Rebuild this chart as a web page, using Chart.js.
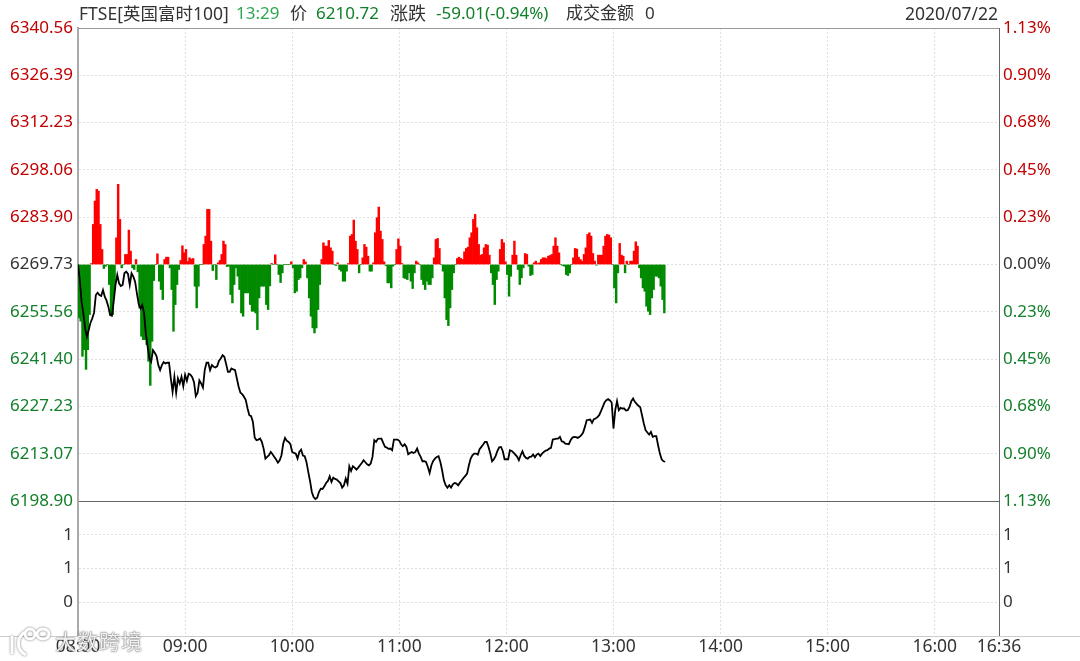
<!DOCTYPE html>
<html>
<head>
<meta charset="utf-8">
<script src="https://cdn.jsdelivr.net/npm/chart.js@4"></script>
<style>
    html, body { margin: 0; padding: 0; background: #fff; }
    #wrap { position: relative; width: 1080px; height: 661px; overflow: hidden; font-family: "Noto Sans", "Noto Sans CJK SC", sans-serif; }
    canvas { position: absolute; left: 0; top: 0; }
    .head { position: absolute; top: 1px; font-size: 17px; line-height: 24px; color: #333; white-space: nowrap; }
    .down { color: #12802a; }
    .time { color: #2fa651; }
    #mark { position: absolute; left: 55px; top: 627px; font-size: 21px; line-height: 28px; letter-spacing: 1px; color: rgba(255,255,255,.9); text-shadow: 0 0 2px #666, 0 0 1px #666; }
    #logo { position: absolute; left: 8px; top: 626px; }
</style>
</head>
<body>
<div id="wrap">
    <canvas id="chart" width="1080" height="661"></canvas>
    <span class="head" style="left:79px;font-size:17.5px">FTSE[英国富时100]</span>
    <span class="head time" style="left:236px">13:29</span>
    <span class="head" style="left:290px">价</span>
    <span class="head down" style="left:316px">6210.72</span>
    <span class="head" style="left:390px;font-size:18px">涨跌</span>
    <span class="head down" style="left:436px">-59.01(-0.94%)</span>
    <span class="head" style="left:566px">成交金额</span>
    <span class="head" style="left:645px">0</span>
    <span class="head" style="right:82px;font-size:17.5px">2020/07/22</span>
    <svg id="logo" width="44" height="32" fill="none" stroke="#fff" stroke-width="3" style="filter:drop-shadow(0 0 1px #777)">
        <path d="M4 10 L4 28 M17 6 C8 12 8 24 18 29"/>
        <ellipse cx="22" cy="8" rx="5" ry="5"/>
        <ellipse cx="35" cy="8" rx="6" ry="5"/>
    </svg>
    <span id="mark">大数跨境</span>
</div>
<script>
    const startPrice = 6269.73;
    const priceTicks = [6198.90, 6213.07, 6227.23, 6241.40, 6255.56, 6269.73, 6283.90, 6298.06, 6312.23, 6326.39, 6340.56];
    const pctLabels = ["1.13%", "0.90%", "0.68%", "0.45%", "0.23%", "0.00%", "0.23%", "0.45%", "0.68%", "0.90%", "1.13%"];
    const volTicks = [0.5, 1, 1.5];
    const volLabels = ["0", "1", "1"];
    const timeTicks = [0, 60, 120, 180, 240, 300, 360, 420, 480, 516];
    const timeLabels = ["08:00", "09:00", "10:00", "11:00", "12:00", "13:00", "14:00", "15:00", "16:00", "16:36"];

    // цена по минутам с 08:00
    const prices = [
        6269.7, 6265.1, 6258.6, 6255.1, 6250.6, 6248.1, 6250.1, 6252.3, 6253.6, 6255.3,
        6260.6, 6261.3, 6260.6, 6260.3, 6262.1, 6260.1, 6258.9, 6257.1, 6254.6, 6254.4,
        6258.6, 6263.6, 6266.6, 6264.1, 6263.3, 6263.6, 6267.1, 6267.6, 6266.9, 6263.6,
        6267.1, 6266.1, 6264.6, 6261.1, 6257.9, 6256.6, 6257.6, 6255.3, 6249.1, 6245.1,
        6241.6, 6240.6, 6244.1, 6243.3, 6242.3, 6239.6, 6238.1, 6239.6, 6240.5, 6240.1,
        6240.3, 6240.3, 6235.6, 6231.6, 6236.1, 6231.3, 6235.6, 6234.1, 6236.1, 6233.3,
        6236.7, 6234.9, 6237.0, 6236.7, 6236.0, 6234.5, 6230.3, 6231.3, 6235.0, 6234.1,
        6232.9, 6238.1, 6240.3, 6240.3, 6238.1, 6239.6, 6239.1, 6238.9, 6239.3, 6240.9,
        6241.6, 6242.6, 6242.1, 6239.9, 6237.6, 6237.6, 6238.6, 6238.3, 6238.1, 6235.6,
        6233.1, 6231.3, 6230.9, 6230.1, 6229.1, 6226.6, 6224.6, 6224.3, 6222.6, 6217.9,
        6217.1, 6217.3, 6217.6, 6216.6, 6214.6, 6211.6, 6212.1, 6212.6, 6213.6, 6212.9,
        6212.1, 6211.3, 6210.4, 6211.1, 6212.6, 6216.1, 6217.8, 6216.9, 6216.6, 6215.9,
        6213.6, 6213.3, 6213.1, 6211.6, 6213.6, 6214.3, 6212.5, 6212.3, 6210.6, 6207.6,
        6204.9, 6201.6, 6200.1, 6199.5, 6199.9, 6201.6, 6202.6, 6202.5, 6203.3, 6204.3,
        6204.9, 6206.3, 6204.6, 6205.9, 6205.5, 6205.3, 6204.8, 6204.3, 6202.9, 6203.6,
        6205.6, 6204.1, 6209.3, 6207.9, 6209.3, 6208.9, 6208.3, 6208.9, 6209.6, 6210.3,
        6211.1, 6210.5, 6209.9, 6209.6, 6210.1, 6212.1, 6217.1, 6216.6, 6217.5, 6217.6,
        6217.6, 6216.3, 6215.1, 6214.9, 6214.5, 6214.6, 6214.1, 6217.3, 6217.3, 6217.3,
        6216.9, 6215.9, 6215.3, 6215.9, 6215.1, 6212.9, 6213.3, 6213.6, 6213.3, 6213.6,
        6214.6, 6213.1, 6212.1, 6210.8, 6210.8, 6210.6, 6209.1, 6207.3, 6209.6, 6210.9,
        6211.6, 6212.1, 6212.3, 6210.6, 6208.1, 6205.1, 6203.6, 6202.9, 6203.6, 6202.9,
        6203.9, 6204.3, 6204.1, 6203.6, 6204.4, 6205.1, 6205.8, 6206.4, 6207.1, 6209.6,
        6211.6, 6212.6, 6213.1, 6213.1, 6212.8, 6214.4, 6215.1, 6215.8, 6216.6, 6216.6,
        6215.1, 6213.1, 6210.8, 6211.4, 6212.4, 6213.9, 6215.0, 6215.1, 6213.8, 6211.4,
        6211.4, 6211.4, 6214.1, 6213.9, 6213.4, 6212.8, 6212.2, 6211.1, 6212.6, 6213.8,
        6212.4, 6211.8, 6211.6, 6212.1, 6212.2, 6212.8, 6212.0, 6212.8, 6213.1, 6212.4,
        6213.1, 6213.6, 6214.0, 6214.1, 6214.6, 6214.8, 6217.3, 6217.4, 6217.6, 6217.6,
        6218.1, 6216.8, 6216.6, 6216.1, 6216.0, 6215.9, 6217.1, 6217.9, 6218.1, 6218.0,
        6217.8, 6218.1, 6218.6, 6219.4, 6221.1, 6223.1, 6223.2, 6223.3, 6222.3, 6223.4,
        6223.6, 6224.0, 6224.6, 6225.8, 6227.1, 6228.4, 6229.1, 6229.4, 6229.0, 6228.4,
        6220.6, 6226.1, 6228.8, 6226.1, 6226.8, 6226.6, 6226.6, 6226.0, 6226.1, 6227.1,
        6228.8, 6229.6, 6228.6, 6228.0, 6227.4, 6227.0, 6224.6, 6222.1, 6220.1, 6219.4,
        6218.8, 6219.6, 6218.1, 6218.3, 6218.3, 6215.6, 6213.1, 6211.4, 6210.8, 6210.72
    ];

    // красные/зелёные столбики, отклонение от нулевой линии
    const bars = [
        -16, -17, -27.5, -25.5, -31.4, -25.5, -15, 0.3, 12, 19,
        22.5, 22, 12, 4.5, -1.2, -0.5, 0, -6, -15, -15,
        -7.5, 8, 24, 13.5, -1, 0, 3, 3, 10.3, 4,
        -1, -1.5, 1.5, -2.2, -13, -21.5, -22.5, -22.5, -24, -29,
        -36.2, -23, -4.8, 0, 3.2, -5, -7.5, -10.5, 1.5, 2.2,
        2.2, -1, -7.5, -20, -12, -6, -1.5, 1.2, 5.6, 3.5,
        4.5, 0.9, 2, 1.6, 1.8, -6.5, -13, -6.5, 0, 0,
        6, 8.5, 16.5, 16.5, 7, -1.8, 0, -4.5, 0.5, 1.2,
        3, 7, 6, -0.6, -0.5, -9, -11.5, -6, -1, -3.5,
        -7.5, -14.5, -15.5, -8.5, -8.5, -8.5, -12, -14, -14, -14.5,
        -19.5, -10, -6.5, -6.5, -6.5, -12, -13.5, -6.4, 0.3, 0,
        2.9, 0, -3, -5.4, -2.5, 0, 0, 0, 0, 0.8,
        -1, -8.5, -8, -4.5, -4, -1, 1.5, 0.8, -4, -10,
        -15.5, -19, -20.5, -19, -13.5, -6, 1.5, 6.5, 5.5, 5.5,
        7.2, 5, 4, 0, -0.3, 0.5, -1.5, -2, -5, -5,
        -2, 0.3, 8.5, 9, 13.3, 7, 4.5, -2.5, 0, 2,
        6, 5.2, 2.5, -2, -2, 0.5, 9.5, 14, 17.2, 10,
        7.5, 0.8, -0.3, -5.5, -5.5, -7, -0.5, 0, 4.5, 7.7,
        5.5, 0.3, -4, -4.2, -4.5, -2.5, -5, -7.2, -2.5, 1,
        0.5, 0, -4.5, -6, -7.5, -5, -6, -6, -4, 2,
        7.5, 7.8, 4.8, 0, -2, -10, -16.5, -18.3, -13, -7.5,
        -2.5, 0, 1.8, 2.2, 1.8, 1.5, 3.8, 4.8, 5.2, 8,
        9.5, 13.5, 15, 11, 6, 2.8, 3, 5, 6, 5.8,
        2.8, -2.5, -6, -12, -4.5, -2, 4.5, 7.5, 6.5, 0.8,
        -3, -9.5, -3.5, 2.8, 7, 2.8, -1.5, -6, -4, -1,
        3.3, 3, -0.5, -3.3, -3, 0.5, 1, 0.3, 0.5, 1.5,
        2, 2, 1.8, 2.5, 2.7, 3, 5.5, 8, 5.5, 3.5,
        0, -0.3, -0.5, -3, -3.3, -2.5, 0, 2, 4.8, 4.6,
        2.2, 1.5, 1, 3, 5, 9, 9.5, 8.5, 3.3, 1,
        -0.2, 2.8, 2.8, 2.8, 5.5, 8.5, 9, 8.8, 8, 0,
        -7, -11.5, -2.5, 6.3, 2.8, 2.5, -2.5, 1, 0, 1,
        1, 4, 6.8, 5.5, -1, -4, -7, -8, -12.5, -14,
        -15, -10, -7.5, -3.5, -3.5, -4, -6.5, -10.5, -14.5
    ];

    const fontFamily = '"Noto Sans", "Noto Sans CJK SC", sans-serif';
    const textRed = "#c00000";
    const textGreen = "#12802a";
    const textDark = "#333333";
    const gridColor = "#e0e0e0";

    function priceColor(index) {
        if (index === 5) return textDark;
        return index > 5 ? textRed : textGreen;
    }

    // линия во всю ширину под графиком и рамка сверху
    const framePlugin = {
        id: "frame",
        afterDraw(chart) {
            const ctx = chart.ctx;
            const area = chart.chartArea;
            ctx.save();
            ctx.strokeStyle = "#cccccc";
            ctx.lineWidth = 1;
            ctx.beginPath();
            ctx.moveTo(0, area.bottom + 0.5);
            ctx.lineTo(1080, area.bottom + 0.5);
            ctx.stroke();
            ctx.strokeStyle = "#999999";
            ctx.beginPath();
            ctx.moveTo(area.left, area.top + 0.5);
            ctx.lineTo(area.right, area.top + 0.5);
            ctx.stroke();
            ctx.restore();
        }
    };

    new Chart(document.getElementById("chart"), {
        data: {
            datasets: [
                {
                    type: "line",
                    order: 0,
                    data: prices.map((v, i) => ({ x: i, y: v })),
                    borderColor: "#000000",
                    borderWidth: 1.8,
                    pointRadius: 0,
                    tension: 0,
                    xAxisID: "x",
                    yAxisID: "yPrice"
                },
                {
                    type: "bar",
                    order: 1,
                    data: bars.map((v, i) => ({ x: i + 0.5, y: startPrice + v })),
                    backgroundColor: bars.map(v => v > 0 ? "#ff0000" : "#008a00"),
                    base: startPrice,
                    barPercentage: 1,
                    categoryPercentage: 1,
                    xAxisID: "x",
                    yAxisID: "yPrice"
                }
            ]
        },
        options: {
            responsive: false,
            animation: false,
            layout: { padding: { top: 28, left: 0, right: 0, bottom: 0 } },
            plugins: { legend: { display: false }, tooltip: { enabled: false } },
            scales: {
                x: {
                    type: "linear",
                    offset: false,
                    min: 0,
                    max: 516,
                    afterBuildTicks: axis => { axis.ticks = timeTicks.map(v => ({ value: v })); },
                    afterFit: axis => { axis.height = 25; },
                    grid: { color: gridColor, drawTicks: false, offset: false },
                    border: { display: false, dash: [2, 2] },
                    ticks: {
                        autoSkip: false,
                        maxRotation: 0,
                        padding: 1,
                        color: textDark,
                        font: { family: fontFamily, size: 17.5 },
                        callback: (v, i) => timeLabels[i]
                    }
                },
                yPrice: {
                    position: "left",
                    stack: "left",
                    stackWeight: 473,
                    weight: 1,
                    min: priceTicks[0],
                    max: priceTicks[10],
                    afterBuildTicks: axis => { axis.ticks = priceTicks.map(v => ({ value: v })); },
                    afterFit: axis => { axis.width = 78; },
                    grid: {
                        drawTicks: false,
                        color: ctx => ctx.index === 0 ? "#666666" : gridColor
                    },
                    border: {
                        color: "#aaaaaa",
                        width: 2,
                        dash: ctx => ctx.index === 0 ? [] : [2, 2]
                    },
                    ticks: {
                        autoSkip: false,
                        padding: 5,
                        font: { family: fontFamily, size: 17 },
                        color: ctx => priceColor(ctx.index),
                        callback: v => v.toFixed(2)
                    }
                },
                yVol: {
                    position: "left",
                    stack: "left",
                    stackWeight: 135,
                    weight: 0,
                    min: 0,
                    max: 2,
                    afterBuildTicks: axis => { axis.ticks = volTicks.map(v => ({ value: v })); },
                    afterFit: axis => { axis.width = 78; },
                    grid: { color: gridColor, drawTicks: false },
                    border: { color: "#aaaaaa", width: 2, dash: [2, 2] },
                    ticks: {
                        autoSkip: false,
                        padding: 5,
                        color: textDark,
                        font: { family: fontFamily, size: 17 },
                        callback: (v, i) => volLabels[i]
                    }
                },
                yPct: {
                    position: "right",
                    stack: "right",
                    stackWeight: 473,
                    weight: 0,
                    min: priceTicks[0],
                    max: priceTicks[10],
                    afterBuildTicks: axis => { axis.ticks = priceTicks.map(v => ({ value: v })); },
                    afterFit: axis => { axis.width = 81; },
                    grid: { display: false, drawTicks: false },
                    border: { color: "#666666" },
                    ticks: {
                        autoSkip: false,
                        padding: 4,
                        font: { family: fontFamily, size: 17 },
                        color: ctx => priceColor(ctx.index),
                        callback: (v, i) => pctLabels[i]
                    }
                },
                yVolRight: {
                    position: "right",
                    stack: "right",
                    stackWeight: 135,
                    weight: 1,
                    min: 0,
                    max: 2,
                    afterBuildTicks: axis => { axis.ticks = volTicks.map(v => ({ value: v })); },
                    afterFit: axis => { axis.width = 81; },
                    grid: { display: false, drawTicks: false },
                    border: { color: "#666666" },
                    ticks: {
                        autoSkip: false,
                        padding: 4,
                        color: textDark,
                        font: { family: fontFamily, size: 17 },
                        callback: (v, i) => volLabels[i]
                    }
                }
            }
        },
        plugins: [framePlugin]
    });
</script>
</body>
</html>
